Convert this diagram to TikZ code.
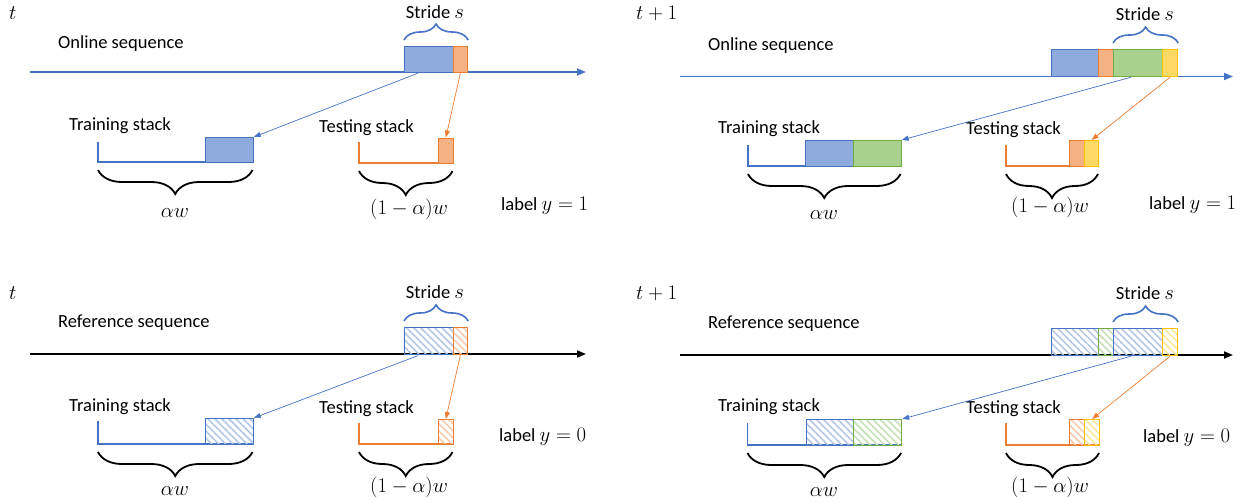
\documentclass[tikz,border=0pt]{standalone}
\usepackage{fontspec}
\setmainfont{Carlito}
\usetikzlibrary{decorations.pathreplacing,arrows.meta,patterns.meta}
\definecolor{cblue}{HTML}{4472C4}
\definecolor{fblue}{HTML}{8FAADC}
\definecolor{corange}{HTML}{ED7D31}
\definecolor{forange}{HTML}{F4B183}
\definecolor{cgreen}{HTML}{70AD47}
\definecolor{fgreen}{HTML}{A9D18E}
\definecolor{cyellow}{HTML}{FFC000}
\definecolor{fyellow}{HTML}{FFD966}
\definecolor{hblue}{HTML}{B4C7E7}
\definecolor{horange}{HTML}{F8CBAD}
\definecolor{hgreen}{HTML}{C5E0B4}
\definecolor{hyellow}{HTML}{FFE699}
\newcommand{\mm}[1]{{\fontsize{20.5}{24}\selectfont$#1$}}
\tikzset{
  txt/.style={font=\fontsize{18.5}{22}\selectfont, inner sep=0pt, anchor=west},
  ctxt/.style={txt, anchor=center},
  blk/.style={inner sep=0pt, anchor=north west, line width=1.2pt},
  hatch/.style={pattern={Lines[angle=-45,distance=5pt,line width=1.6pt]}, pattern color=#1},
  axisline/.style={line width=1.8pt, -{Triangle[length=9pt,width=7pt]}},
  stk/.style={line width=1.8pt},
  sbrace/.style={draw=cblue, line width=1.6pt, decorate, decoration={brace, amplitude=16pt}},
  kbrace/.style={draw=black, line width=1.8pt, decorate, decoration={brace, amplitude=24pt}},
  arr/.style={line width=0.7pt, -{Triangle[length=7pt,width=5pt]}}
}
\begin{document}
\begin{tikzpicture}[x=1pt,y=-1pt]
\useasboundingbox (0,0) rectangle (1245,501);

% ================= top-left =================
\node[txt] (t1) at (9,13) {\mm{t}};
\node[txt] (os1) at (58,44) {Online sequence};
\coordinate (ax1s) at (30,72); \coordinate (ax1e) at (586,72);
\draw[axisline, cblue] (ax1s) -- (ax1e);
\node[blk, draw=cblue, fill=fblue, minimum width=48.5pt, minimum height=26pt] (b1) at (404,46) {};
\node[blk, draw=corange, fill=forange, minimum width=14.5pt, minimum height=26pt] (o1) at (452.5,46) {};
\draw[sbrace] ([yshift=6pt]b1.north west) -- ([yshift=6pt]o1.north east);
\node[ctxt] (st1) at (435,12) {Stride \mm{s}};

\node[txt] (tr1) at (69,126) {Training stack};
\coordinate (tr1a) at (98,142); \coordinate (tr1b) at (98,162); \coordinate (tr1c) at (252.5,162);
\draw[stk, cblue] (tr1a) -- (tr1b) -- (tr1c);
\node[blk, draw=cblue, fill=fblue, minimum width=47.5pt, minimum height=25pt] (tb1) at (205,137) {};
\draw[kbrace] ([yshift=-8pt]tr1c) -- ([yshift=-8pt]tr1b);
\node[ctxt] (aw1) at (175,213) {\mm{\alpha w}};

\node[txt] (te1) at (319,128) {Testing stack};
\coordinate (te1a) at (359,142); \coordinate (te1b) at (359,163); \coordinate (te1c) at (452.5,163);
\draw[stk, corange] (te1a) -- (te1b) -- (te1c);
\node[blk, draw=corange, fill=forange, minimum width=14.5pt, minimum height=25.5pt] (to1) at (438,137.5) {};
\draw[kbrace] ([yshift=-8pt]te1c) -- ([yshift=-8pt]te1b);
\node[ctxt] (am1) at (409,209) {\mm{(1-\alpha)w}};
\node[txt] (lb1) at (501,206) {label \mm{y=1}};

\draw[arr, cblue] ([xshift=-11pt]b1.south) -- (tb1.north east);
\draw[arr, corange] (o1.south) -- (to1.north);

% ================= top-right =================
\node[txt] (t2) at (636,13) {\mm{t+1}};
\node[txt] (os2) at (708,46) {Online sequence};
\coordinate (ax2s) at (680,76.5); \coordinate (ax2e) at (1233,76.5);
\draw[axisline, cblue] (ax2s) -- (ax2e);
\node[blk, draw=cblue, fill=fblue, minimum width=47pt, minimum height=27pt] (b2) at (1051,49) {};
\node[blk, draw=corange, fill=forange, minimum width=15pt, minimum height=27pt] (o2) at (1098,49) {};
\node[blk, draw=cgreen, fill=fgreen, minimum width=49pt, minimum height=27pt] (g2) at (1113,49) {};
\node[blk, draw=cyellow, fill=fyellow, minimum width=15pt, minimum height=27pt] (y2) at (1162,49) {};
\draw[sbrace] ([yshift=6pt]g2.north west) -- ([yshift=6pt]y2.north east);
\node[ctxt] (st2) at (1145,14) {Stride \mm{s}};

\node[txt] (tr2) at (718,129) {Training stack};
\coordinate (tr2a) at (748,145); \coordinate (tr2b) at (748,166); \coordinate (tr2c) at (900.5,166);
\draw[stk, cblue] (tr2a) -- (tr2b) -- (tr2c);
\node[blk, draw=cblue, fill=fblue, minimum width=48pt, minimum height=26pt] (tb2) at (805,140) {};
\node[blk, draw=cgreen, fill=fgreen, minimum width=47.5pt, minimum height=26pt] (tg2) at (853,140) {};
\draw[kbrace] ([yshift=-8pt]tr2c) -- ([yshift=-8pt]tr2b);
\node[ctxt] (aw2) at (824,215) {\mm{\alpha w}};

\node[txt] (te2) at (966,130) {Testing stack};
\coordinate (te2a) at (1006,145); \coordinate (te2b) at (1006,166); \coordinate (te2c) at (1098,166);
\draw[stk, corange] (te2a) -- (te2b) -- (te2c);
\node[blk, draw=corange, fill=forange, minimum width=15pt, minimum height=26pt] (to2) at (1069,140) {};
\node[blk, draw=cyellow, fill=fyellow, minimum width=14pt, minimum height=26pt] (ty2) at (1084,140) {};
\draw[kbrace] ([yshift=-8pt]te2c) -- ([yshift=-8pt]te2b);
\node[ctxt] (am2) at (1050,207) {\mm{(1-\alpha)w}};
\node[txt] (lb2) at (1149,205) {label \mm{y=1}};

\draw[arr, cblue] ([xshift=-7pt]g2.south) -- (tg2.north east);
\draw[arr, corange] (y2.south) -- (ty2.north);

% ================= bottom-left =================
\node[txt] (t3) at (9,293) {\mm{t}};
\node[txt] (os3) at (58,323) {Reference sequence};
\coordinate (ax3s) at (30,354); \coordinate (ax3e) at (586,354);
\draw[axisline, black] (ax3s) -- (ax3e);
\node[blk, draw=cblue, hatch=hblue, minimum width=48.5pt, minimum height=27pt] (b3) at (404,327) {};
\node[blk, draw=corange, hatch=horange, minimum width=14.5pt, minimum height=27pt] (o3) at (452.5,327) {};
\draw[sbrace] ([yshift=6pt]b3.north west) -- ([yshift=6pt]o3.north east);
\node[ctxt] (st3) at (435,292) {Stride \mm{s}};

\node[txt] (tr3) at (69,407) {Training stack};
\coordinate (tr3a) at (98,421); \coordinate (tr3b) at (98,444); \coordinate (tr3c) at (252.5,444);
\draw[stk, cblue] (tr3a) -- (tr3b) -- (tr3c);
\node[blk, draw=cblue, hatch=hblue, minimum width=47.5pt, minimum height=26pt] (tb3) at (205,418) {};
\draw[kbrace] ([yshift=-8pt]tr3c) -- ([yshift=-8pt]tr3b);
\node[ctxt] (aw3) at (175,491) {\mm{\alpha w}};

\node[txt] (te3) at (319,409) {Testing stack};
\coordinate (te3a) at (359,423); \coordinate (te3b) at (359,444); \coordinate (te3c) at (452.5,444);
\draw[stk, corange] (te3a) -- (te3b) -- (te3c);
\node[blk, draw=corange, hatch=horange, minimum width=14.5pt, minimum height=25pt] (to3) at (438,419) {};
\draw[kbrace] ([yshift=-8pt]te3c) -- ([yshift=-8pt]te3b);
\node[ctxt] (am3) at (409,487) {\mm{(1-\alpha)w}};
\node[txt] (lb3) at (499,437) {label \mm{y=0}};

\draw[arr, cblue] ([xshift=-11pt]b3.south) -- (tb3.north east);
\draw[arr, corange] (o3.south) -- (to3.north);

% ================= bottom-right =================
\node[txt] (t4) at (636,293) {\mm{t+1}};
\node[txt] (os4) at (708,324) {Reference sequence};
\coordinate (ax4s) at (680,355); \coordinate (ax4e) at (1233,355);
\draw[axisline, black] (ax4s) -- (ax4e);
\node[blk, draw=cblue, hatch=hblue, minimum width=47pt, minimum height=27pt] (b4) at (1051,328) {};
\node[blk, draw=cgreen, hatch=hgreen, minimum width=15pt, minimum height=27pt] (g4) at (1098,328) {};
\node[blk, draw=cblue, hatch=hblue, minimum width=49pt, minimum height=27pt] (c4) at (1113,328) {};
\node[blk, draw=cyellow, hatch=hyellow, minimum width=15pt, minimum height=27pt] (y4) at (1162,328) {};
\draw[sbrace] ([yshift=6pt]c4.north west) -- ([yshift=6pt]y4.north east);
\node[ctxt] (st4) at (1145,293) {Stride \mm{s}};

\node[txt] (tr4) at (718,407) {Training stack};
\coordinate (tr4a) at (747.5,423); \coordinate (tr4b) at (747.5,445); \coordinate (tr4c) at (901,445);
\draw[stk, cblue] (tr4a) -- (tr4b) -- (tr4c);
\node[blk, draw=cblue, hatch=hblue, minimum width=47pt, minimum height=26pt] (tb4) at (806,419) {};
\node[blk, draw=cgreen, hatch=hgreen, minimum width=48pt, minimum height=26pt] (tg4) at (853,419) {};
\draw[kbrace] ([yshift=-8pt]tr4c) -- ([yshift=-8pt]tr4b);
\node[ctxt] (aw4) at (824,492) {\mm{\alpha w}};

\node[txt] (te4) at (966,409) {Testing stack};
\coordinate (te4a) at (1006,423); \coordinate (te4b) at (1006,445); \coordinate (te4c) at (1099,445);
\draw[stk, corange] (te4a) -- (te4b) -- (te4c);
\node[blk, draw=corange, hatch=horange, minimum width=15pt, minimum height=26pt] (to4) at (1069,419) {};
\node[blk, draw=cyellow, hatch=hyellow, minimum width=15pt, minimum height=26pt] (ty4) at (1084,419) {};
\draw[kbrace] ([yshift=-8pt]te4c) -- ([yshift=-8pt]te4b);
\node[ctxt] (am4) at (1050,487) {\mm{(1-\alpha)w}};
\node[txt] (lb4) at (1143,438) {label \mm{y=0}};

\draw[arr, cblue] ([xshift=-7pt]c4.south) -- (tg4.north east);
\draw[arr, corange] (y4.south) -- (ty4.north);
\end{tikzpicture}
\end{document}
